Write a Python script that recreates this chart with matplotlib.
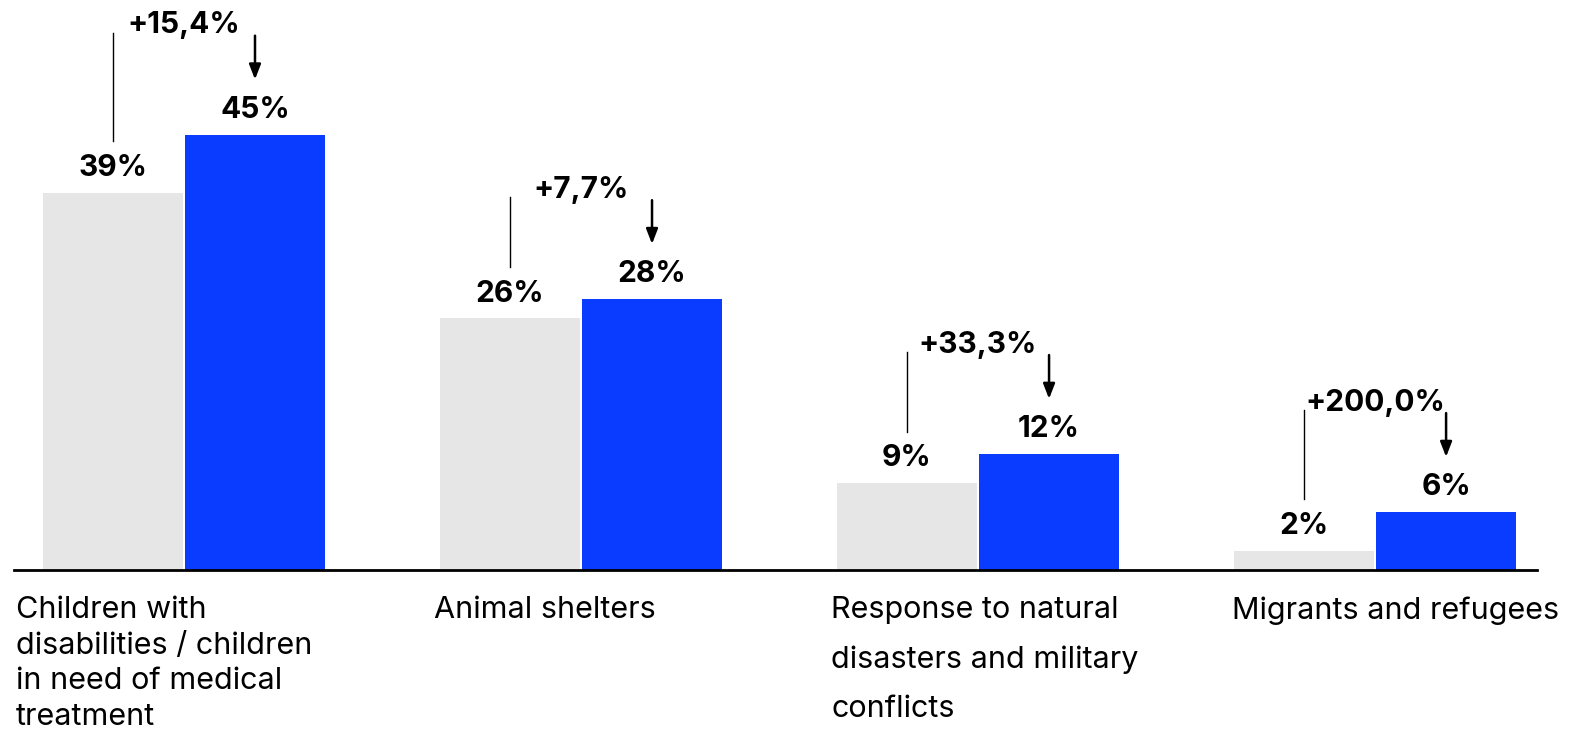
import numpy as np
import matplotlib
matplotlib.use('Agg')
import matplotlib.pyplot as plt

categories = ['Children with\ndisabilities / children\nin need of medical\ntreatment',
              'Animal shelters',
              'Response to natural\ndisasters and military\nconflicts',
              'Migrants and refugees']
before = [39, 26, 9, 2]
after = [45, 28, 12, 6]
changes = ['+15,4%', '+7,7%', '+33,3%', '+200,0%']

plt.rcParams['font.family'] = ['Inter', 'DejaVu Sans']

GREY = '#e6e6e6'
BLUE = '#0a3cff'

fig = plt.figure(figsize=(15.73, 7.29), dpi=100)
ax = fig.add_axes([14/1573, 159/729, (1537-14)/1573, 570/729])

x = np.arange(len(categories))
w = 0.353
ax.bar(x - w/2 - 0.0025, before, w, color=GREY, edgecolor='none')
ax.bar(x + w/2 + 0.0025, after, w, color=BLUE, edgecolor='none')

ax.set_xlim(-0.428, 3.408)
ax.set_ylim(0, 58.9)
for s in ['top', 'right', 'left']:
    ax.spines[s].set_visible(False)
ax.spines['bottom'].set_linewidth(2)
ax.set_xticks([])
ax.set_yticks([])

# label offsets / line spacing differ a bit per label in the original
offs = [-0.423, -0.37, -0.37, -0.36]
lsp = [1.34, 1.34, 1.95, 1.34]

for i in range(len(categories)):
    xb = x[i] - w/2 - 0.0025
    xa = x[i] + w/2 + 0.0025
    ax.text(xb, before[i] + 1.1, f'{before[i]}%', ha='center', va='bottom',
            fontsize=21.5, fontweight='bold')
    ax.text(xa, after[i] + 1.1, f'{after[i]}%', ha='center', va='bottom',
            fontsize=21.5, fontweight='bold')
    top = after[i] + 10.5
    ax.plot([xb, xb], [before[i] + 5.3, top], color='black', lw=1)
    ax.annotate('', xy=(xa, after[i] + 5.4), xytext=(xa, top),
                arrowprops=dict(arrowstyle='-|>,head_width=0.35,head_length=0.9',
                                color='black', lw=1.8))
    ax.text(x[i], top + 0.8, changes[i], ha='center', va='center',
            fontsize=21.5, fontweight='bold')
    ax.text(x[i] + offs[i], -2.7, categories[i], ha='left', va='top',
            fontsize=22, linespacing=lsp[i])

fig.savefig('out.png', dpi=100)
